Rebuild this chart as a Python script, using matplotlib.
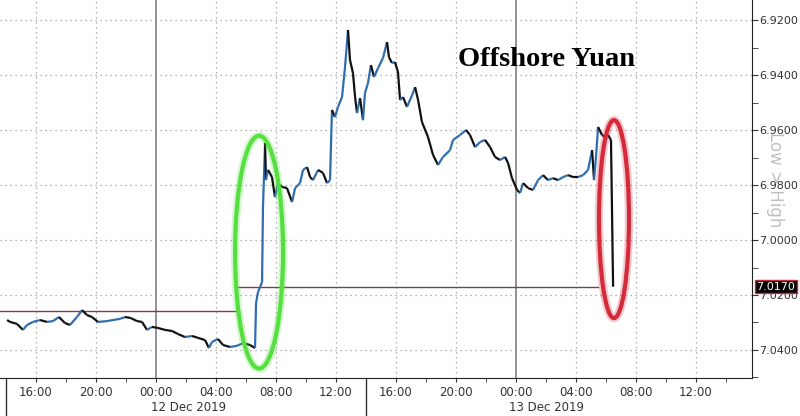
import numpy as np
import pandas as pd
import matplotlib
matplotlib.use("Agg")
import matplotlib.pyplot as plt
import matplotlib.dates as mdates
from matplotlib.collections import LineCollection
from matplotlib.patches import Ellipse

# ==========================
# Data
# ==========================

base = pd.Timestamp("2019-12-12 00:00")

# hours relative to 12 Dec 2019 00:00
hours = [-9.93, -9.73, -9.27, -8.87, -8.60, -8.20, -7.73, -7.27, -6.87, -6.47,
         -6.07, -5.73, -5.27, -4.93, -4.60, -4.27, -3.87, -3.27, -2.87, -2.40,
         -2.07, -1.67, -1.27, -0.93, -0.60, -0.27, 0.13, 0.60, 1.07, 1.47,
         1.93, 2.40, 2.80, 3.27, 3.53, 3.73, 4.13, 4.47, 4.93, 5.40,
         5.80, 6.27, 6.60, 6.67, 6.80, 7.07, 7.13, 7.27, 7.33, 7.47,
         7.73, 7.93, 8.13, 8.40, 8.73, 9.07, 9.27, 9.60, 9.80, 10.07,
         10.27, 10.47, 10.80, 11.13, 11.40, 11.60, 11.73, 11.93, 12.13, 12.40,
         12.60, 12.80, 12.93, 13.13, 13.27, 13.40, 13.60, 13.80, 13.93, 14.13,
         14.33, 14.53, 14.80, 15.13, 15.40, 15.53, 15.73, 15.93, 16.13, 16.27,
         16.47, 16.73, 17.07, 17.27, 17.47, 17.73, 18.13, 18.47, 18.80, 19.13,
         19.60, 19.80, 20.27, 20.67, 20.93, 21.27, 21.60, 21.93, 22.27, 22.60,
         22.93, 23.27, 23.47, 23.73, 24.07, 24.27, 24.47, 24.80, 25.13, 25.47,
         25.80, 26.13, 26.47, 26.80, 27.13, 27.47, 27.80, 28.13, 28.47, 28.80,
         29.07, 29.20, 29.33, 29.47, 29.73, 29.93, 30.13, 30.33, 30.47]

price = [7.0291, 7.0298, 7.0305, 7.0327, 7.0309, 7.0298, 7.0291, 7.0298, 7.0295, 7.0280,
         7.0302, 7.0309, 7.0280, 7.0255, 7.0273, 7.0280, 7.0298, 7.0295, 7.0291, 7.0287,
         7.0280, 7.0284, 7.0295, 7.0298, 7.0327, 7.0316, 7.0320, 7.0327, 7.0331, 7.0342,
         7.0353, 7.0349, 7.0356, 7.0364, 7.0393, 7.0371, 7.0360, 7.0382, 7.0389, 7.0385,
         7.0375, 7.0382, 7.0393, 7.0229, 7.0189, 7.0153, 6.9880, 6.9647, 6.9782, 6.9745,
         6.9771, 6.9844, 6.9793, 6.9807, 6.9811, 6.9862, 6.9811, 6.9793, 6.9745, 6.9735,
         6.9771, 6.9782, 6.9745, 6.9756, 6.9793, 6.9782, 6.9527, 6.9553, 6.9516, 6.9480,
         6.9371, 6.9236, 6.9345, 6.9393, 6.9480, 6.9538, 6.9484, 6.9564, 6.9465, 6.9429,
         6.9364, 6.9407, 6.9375, 6.9338, 6.9280, 6.9335, 6.9356, 6.9353, 6.9389, 6.9491,
         6.9480, 6.9516, 6.9473, 6.9444, 6.9491, 6.9571, 6.9625, 6.9691, 6.9727, 6.9698,
         6.9673, 6.9636, 6.9618, 6.9600, 6.9618, 6.9662, 6.9644, 6.9636, 6.9662, 6.9698,
         6.9709, 6.9698, 6.9720, 6.9775, 6.9818, 6.9829, 6.9793, 6.9811, 6.9818, 6.9782,
         6.9764, 6.9782, 6.9775, 6.9782, 6.9771, 6.9764, 6.9771, 6.9771, 6.9764, 6.9745,
         6.9673, 6.9782, 6.9698, 6.9589, 6.9618, 6.9625, 6.9618, 6.9636, 7.0170]

# reference step line
ref_hours = [-10.4, 5.4, 29.47]
ref_level = [7.0258, 7.0170]
last_price = 7.0170

day_labels = ["12 Dec 2019", "13 Dec 2019"]
day_label_hours = [2.2, 26.0]
day_break_hours = [-10.0, 14.0]

x_range = [-10.4, 39.73]
y_ticks = [6.92, 6.94, 6.96, 6.98, 7.00, 7.02, 7.04]

# ==========================
# Graph
# ==========================

def to_x(h):
    return mdates.date2num(base + pd.to_timedelta(np.asarray(h), unit="h"))

narrow = ["Liberation Sans Narrow", "DejaVu Sans"]

fig = plt.figure(figsize=(8, 4.16), dpi=100)
ax = fig.add_axes([0.0, 0.0913, 0.94, 0.9087])

x = to_x(hours)
y = np.array(price)
pts = np.column_stack([x, y])
segs = np.stack([pts[:-1], pts[1:]], axis=1)
cols = np.where(np.diff(y) < 0, "#2f6db0", "#111111")
ax.add_collection(LineCollection(segs, colors=cols, linewidths=1.6, zorder=4))

# step reference line
rx = to_x(ref_hours)
for i in range(len(ref_level)):
    ax.plot([rx[i], rx[i + 1]], [ref_level[i], ref_level[i]],
            color="#7d4141", lw=1.0, zorder=3)

ax.set_xlim(to_x(x_range))
ax.set_ylim(7.0502, 6.9127)

# grid
for v in y_ticks:
    ax.axhline(v, color="#9a9a9a", lw=0.9, ls=(0, (1, 3)), zorder=1)
grid_times = pd.date_range("2019-12-11 16:00", "2019-12-13 12:00", freq="4h")
for gt in grid_times:
    gx = mdates.date2num(gt)
    if gt.hour == 0:
        ax.axvline(gx, color="#8a8a8a", lw=1.3, zorder=1)
    else:
        ax.axvline(gx, color="#9a9a9a", lw=0.9, ls=(0, (1, 3)), zorder=1)

# axes look
for s in ["left", "top"]:
    ax.spines[s].set_visible(False)
ax.spines["right"].set_color("#222222")
ax.spines["bottom"].set_color("#222222")

ax.yaxis.tick_right()
ax.set_yticks(y_ticks)
ax.set_yticklabels([f"{v:.4f}" for v in y_ticks])
ax.set_yticks(np.arange(6.93, 7.05, 0.02), minor=True)
ax.tick_params(axis="y", which="both", direction="out", length=4, pad=1,
               labelsize=8, labelcolor="#333333", colors="#333333")

ax.xaxis.set_major_locator(mdates.HourLocator(byhour=range(0, 24, 4)))
ax.xaxis.set_major_formatter(mdates.DateFormatter("%H:%M"))
ax.xaxis.set_minor_locator(mdates.HourLocator(byhour=range(2, 24, 4)))
ax.tick_params(axis="x", which="both", direction="out", length=3, pad=3,
               labelsize=8.5, labelcolor="#333333", colors="#333333")
for lab in ax.get_xticklabels() + ax.get_yticklabels():
    lab.set_family(narrow)

# date row under the axis
trans = ax.get_xaxis_transform()
for h in day_break_hours:
    ax.plot([to_x(h), to_x(h)], [0, -0.1], transform=trans, color="#333333",
            lw=1.0, clip_on=False)
for lab, h in zip(day_labels, day_label_hours):
    ax.text(to_x(h), -0.078, lab, transform=trans, ha="center", va="center",
            fontsize=8.5, color="#333333", family=narrow)

# ellipses
green = Ellipse((to_x(6.87), 7.0044), width=3.2 / 24, height=0.0847,
                fill=False, ec="#55e040", lw=3, zorder=5)
green_glow = Ellipse((to_x(6.87), 7.0044), width=3.2 / 24, height=0.0847,
                     fill=False, ec="#55e040", lw=6, alpha=0.25, zorder=5)
red = Ellipse((to_x(30.53), 6.9924), width=2.0 / 24, height=0.072,
              fill=False, ec="#d42a3a", lw=3, zorder=5)
red_glow = Ellipse((to_x(30.53), 6.9924), width=2.0 / 24, height=0.072,
                   fill=False, ec="#d42a3a", lw=6, alpha=0.25, zorder=5)
for e in [green_glow, green, red_glow, red]:
    ax.add_patch(e)

# last price tag
ax.annotate(f"{last_price:.4f}", xy=(1.0, last_price), xycoords=ax.get_yaxis_transform(),
            xytext=(3, 0), textcoords="offset points", ha="left", va="center",
            fontsize=8, color="white", family=narrow, annotation_clip=False,
            bbox=dict(boxstyle="square,pad=0.15", fc="black", ec="#c03040", lw=1))

# texts
fig.text(0.5725, 0.856, "Offshore Yuan", family="Liberation Serif",
         fontweight="bold", fontsize=20.5, va="center", ha="left")
fig.text(0.969, 0.567, "Low > High", rotation=-90, color="#c0c0c0",
         fontsize=12, ha="center", va="center", zorder=-1)

plt.savefig("out.png", dpi=100)
